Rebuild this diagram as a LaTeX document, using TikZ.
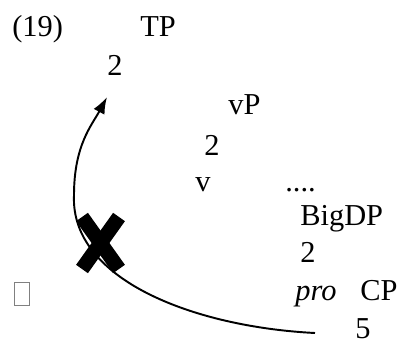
\documentclass[tikz,border=0pt]{standalone}
\usepackage{fontspec}
\setmainfont{Liberation Serif}
\usetikzlibrary{arrows.meta, positioning}
\newcommand{\treefont}{\fontsize{17.3}{20}\selectfont}

\begin{document}
\begin{tikzpicture}[
    x=0.02cm, y=0.02cm,
    lbl/.style={inner sep=0pt, anchor=base west, font=\treefont},
    move/.style={-{Latex[length=9.5pt,width=7pt]}, line width=1.1pt},
    cross/.style={line width=0.29cm},
    gap/.style={draw=gray, line width=0.4pt, inner sep=0pt, minimum width=0.3cm, minimum height=0.47cm}
]
\useasboundingbox (0,0) rectangle (415,345);
% tree labels
\node[lbl] (ex)    at (12,308)  {(19)};
\node[lbl] (tp)    at (140,308) {TP};
\node[lbl] (tpbr)  at (107,269) {2};
\node[lbl] (vp)    at (228,230) {vP};
\node[lbl] (vpbr)  at (204,190) {2};
\node[lbl] (v)     at (195,154) {v};
\node[lbl] (dots)  at (285,154) {....};
\node[lbl] (bigdp) at (300,120) {BigDP};
\node[lbl] (dpbr)  at (300,83)  {2};
\node[lbl] (pro)   at (295,45)  {\itshape pro};
\node[lbl] (cp)    at (360,45)  {CP};
\node[lbl] (cpbr)  at (355,7)   {5};
\node[gap] (box)   at (22,51)   {};
% movement arrow
\coordinate (src) at (315,12);
\coordinate (bend) at (74,150);
\coordinate (tgt) at (107,248);
\draw[move] (src) .. controls (195,18) and (70,65) .. (bend)
                  .. controls (74,200) and (92,220) .. (tgt);
% blocked
\draw[cross] (82,128) -- (119,76);
\draw[cross] (119,128) -- (82,76);
\end{tikzpicture}
\end{document}
